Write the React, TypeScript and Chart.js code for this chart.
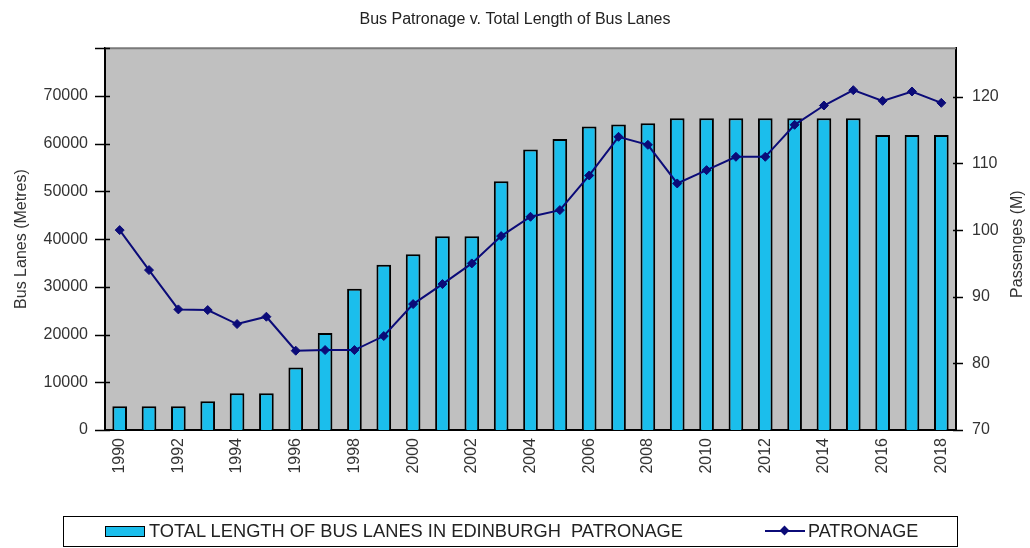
import React, { useEffect, useRef } from "react";
import { Chart, registerables } from "chart.js";

Chart.register(...registerables);

const years = [
  "1990", "1991", "1992", "1993", "1994", "1995", "1996", "1997", "1998", "1999",
  "2000", "2001", "2002", "2003", "2004", "2005", "2006", "2007", "2008", "2009",
  "2010", "2011", "2012", "2013", "2014", "2015", "2016", "2017", "2018",
];

const laneLengths = [
  5000, 5000, 5000, 6000, 7700, 7700, 13100, 20300, 29600, 34600,
  36800, 40600, 40600, 52100, 58800, 61000, 63600, 64000, 64300, 65300,
  65300, 65300, 65300, 65300, 65300, 65300, 61800, 61800, 61800,
];

const patronage = [
  100, 94, 88.1, 88, 85.9, 87, 81.9, 82, 82, 84.1,
  88.9, 91.9, 95, 99.1, 102, 103, 108.2, 114, 112.8, 107,
  109, 111, 111, 115.8, 118.7, 121, 119.4, 120.8, 119.1,
];

const leftTicks = [0, 10000, 20000, 30000, 40000, 50000, 60000, 70000, 80000];
const rightTicks = [70, 80, 90, 100, 110, 120];

const titleText = "Bus Patronage v. Total Length of Bus Lanes";
const leftTitle = "Bus Lanes (Metres)";
const rightTitle = "Passenges (M)";
const barLabel = "TOTAL LENGTH OF BUS LANES IN EDINBURGH  PATRONAGE";
const lineLabel = "PATRONAGE";

const FONT = "'Liberation Sans', Arial, sans-serif";
const BAR_COLOR = "#1BBEEC";
const LINE_COLOR = "#0B0B78";
const TEXT = "#333333";

const W = 1030;
const H = 548;
const PLOT_LEFT = 105;
const PLOT_RIGHT = 956;
const PLOT_BOTTOM = 430;

const framePlugin = {
  id: "frame",
  beforeDraw(chart: any) {
    const { ctx, chartArea: a } = chart;
    ctx.save();
    ctx.fillStyle = "#C0C0C0";
    ctx.fillRect(a.left, a.top, a.right - a.left, a.bottom - a.top);
    ctx.restore();
  },
  afterDraw(chart: any) {
    const { ctx, chartArea: a } = chart;
    ctx.save();
    ctx.strokeStyle = "#7A7A7A";
    ctx.lineWidth = 2;
    ctx.beginPath();
    ctx.moveTo(a.left, a.top);
    ctx.lineTo(a.right, a.top);
    ctx.stroke();
    ctx.strokeStyle = "#000";
    ctx.lineWidth = 1.5;
    const yS = chart.scales.y;
    leftTicks.forEach((v) => {
      const py = Math.round(yS.getPixelForValue(v)) + 0.5;
      ctx.beginPath();
      ctx.moveTo(a.left - 10, py);
      ctx.lineTo(a.left + 5, py);
      ctx.stroke();
    });
    const y1S = chart.scales.y1;
    rightTicks.forEach((v) => {
      const py = Math.round(y1S.getPixelForValue(v)) + 0.5;
      ctx.beginPath();
      ctx.moveTo(a.right - 3, py);
      ctx.lineTo(a.right + 7, py);
      ctx.stroke();
    });
    ctx.fillStyle = TEXT;
    ctx.font = `16px ${FONT}`;
    ctx.textAlign = "center";
    ctx.textBaseline = "middle";
    ctx.translate(1018, (a.top + a.bottom) / 2 + 5);
    ctx.rotate(-Math.PI / 2);
    ctx.fillText(rightTitle, 0, 0);
    ctx.restore();
  },
};

export default function App() {
  const canvasRef = useRef<HTMLCanvasElement | null>(null);

  useEffect(() => {
    document.body.style.margin = "0";
    const canvas = canvasRef.current;
    if (!canvas) return;
    const chart = new Chart(canvas, {
      type: "bar",
      data: {
        labels: years,
        datasets: [
          {
            type: "line",
            label: lineLabel,
            data: patronage,
            yAxisID: "y1",
            borderColor: LINE_COLOR,
            backgroundColor: LINE_COLOR,
            borderWidth: 2,
            pointStyle: "rectRot",
            pointRadius: 4.5,
            pointBorderWidth: 1,
            tension: 0,
            order: 0,
          } as any,
          {
            type: "bar",
            label: barLabel,
            data: laneLengths,
            yAxisID: "y",
            backgroundColor: BAR_COLOR,
            borderColor: "#000",
            borderWidth: 2,
            barPercentage: 0.5,
            categoryPercentage: 1,
            order: 1,
          } as any,
        ],
      },
      options: {
        responsive: false,
        animation: false,
        layout: { padding: 0 },
        plugins: {
          legend: { display: false },
          tooltip: { enabled: false },
          title: {
            display: true,
            text: titleText,
            color: "#222",
            font: { family: FONT, size: 16, weight: "normal" },
            padding: { top: 10, bottom: 19 },
          },
        },
        scales: {
          x: {
            grid: { display: false, drawTicks: false },
            border: { display: true, color: "#000", width: 2 },
            ticks: {
              autoSkip: false,
              maxRotation: 90,
              minRotation: 90,
              padding: 8,
              color: TEXT,
              font: { family: FONT, size: 16 },
              callback: (_v: any, i: number) => (i % 2 === 0 ? years[i] : ""),
            },
            afterFit: (s: any) => {
              s.height = H - PLOT_BOTTOM;
            },
          },
          y: {
            position: "left",
            min: 0,
            max: 80000,
            grid: { display: false, drawTicks: true, tickLength: 10 },
            border: { display: true, color: "#000", width: 2 },
            ticks: {
              stepSize: 10000,
              padding: 7,
              color: TEXT,
              font: { family: FONT, size: 16 },
              callback: (v: any) => (v === 80000 ? "" : String(v)),
            },
            title: {
              display: true,
              text: leftTitle,
              color: TEXT,
              font: { family: FONT, size: 16 },
              padding: { top: 12, bottom: 0 },
            },
            afterFit: (s: any) => {
              s.width = PLOT_LEFT;
            },
          },
          y1: {
            position: "right",
            min: 70,
            max: 127.3,
            grid: { display: false, drawTicks: true, tickLength: 7 },
            border: { display: true, color: "#000", width: 2 },
            afterBuildTicks: (s: any) => {
              s.ticks = rightTicks.map((v) => ({ value: v }));
            },
            ticks: {
              padding: 9,
              color: TEXT,
              font: { family: FONT, size: 16 },
            },
            afterFit: (s: any) => {
              s.width = W - PLOT_RIGHT;
            },
          },
        },
      } as any,
      plugins: [framePlugin],
    });
    return () => chart.destroy();
  }, []);

  return (
    <div style={{ position: "fixed", left: 0, top: 0, width: W, height: H, background: "#fff", fontFamily: FONT }}>
      <canvas ref={canvasRef} width={W} height={H} style={{ display: "block", width: W, height: H }} />
      <div
        style={{
          position: "absolute",
          left: 63,
          top: 516,
          width: 895,
          height: 31,
          border: "1.5px solid #000",
          boxSizing: "border-box",
          fontSize: 18,
          color: "#222",
        }}
      >
        <div
          style={{
            position: "absolute",
            left: 41,
            top: 9,
            width: 40,
            height: 11,
            background: BAR_COLOR,
            border: "1.5px solid #000",
            boxSizing: "border-box",
          }}
        />
        <span style={{ position: "absolute", left: 85, top: 0, lineHeight: "28px", whiteSpace: "pre", display: "inline-block", transform: "scaleX(1.015)", transformOrigin: "left center" }}>{barLabel}</span>
        <div style={{ position: "absolute", left: 701, top: 13, width: 40, height: 2, background: LINE_COLOR }} />
        <div
          style={{
            position: "absolute",
            left: 717,
            top: 10,
            width: 7,
            height: 7,
            background: LINE_COLOR,
            transform: "rotate(45deg)",
          }}
        />
        <span style={{ position: "absolute", left: 744, top: 0, lineHeight: "28px", whiteSpace: "pre" }}>{lineLabel}</span>
      </div>
    </div>
  );
}
